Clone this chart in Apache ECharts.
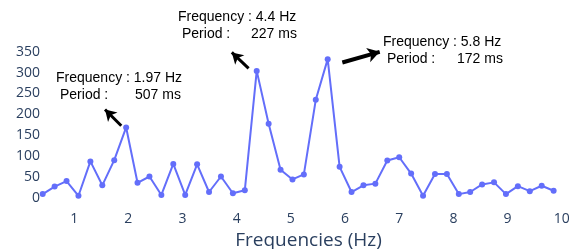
<!DOCTYPE html>
<html>
<head>
<meta charset="utf-8">
<script src="https://cdn.jsdelivr.net/npm/echarts@6/dist/echarts.min.js"></script>
<style>
  html, body { margin: 0; padding: 0; background: #fff; }
  #chart { width: 569px; height: 249px; }
</style>
</head>
<body>
<div id="chart"></div>
<script>
// frequency bins (Hz) and amplitude
const freqs = [0.42, 0.64, 0.86, 1.08, 1.30, 1.52, 1.74, 1.96, 2.17, 2.39, 2.61, 2.83, 3.05, 3.27, 3.49,
  3.71, 3.93, 4.15, 4.37, 4.59, 4.81, 5.03, 5.24, 5.46, 5.68, 5.90, 6.12, 6.34, 6.56, 6.78, 7.00,
  7.22, 7.44, 7.66, 7.88, 8.10, 8.31, 8.53, 8.75, 8.97, 9.19, 9.41, 9.63, 9.85]
const amps = [10, 28, 41, 6, 88, 31, 91, 169, 37, 52, 8, 82, 8, 81, 15, 52, 12, 19, 304, 178, 68, 45,
  57, 235, 332, 75, 15, 31, 35, 90, 98, 59, 6, 58, 58, 10, 15, 33, 38, 10, 29, 17, 30, 18]
const xTicks = [1, 2, 3, 4, 5, 6, 7, 8, 9, 10]

// arrows pointing at the annotated peaks (data coords, tail -> head)
const arrows = [
  { from: [1.87, 173], to: [1.57, 212], width: 3, head: [10, 11] },
  { from: [4.22, 310], to: [3.91, 348], width: 3, head: [10, 11] },
  { from: [5.95, 324], to: [6.64, 349.5], width: 4, head: [11, 12] }
]

const notes = [
  { f: 'Frequency : 1.97 Hz', p: 'Period :', ms: '507 ms', x: 56, y: 79, msx: 135 },
  { f: 'Frequency : 4.4 Hz', p: 'Period :', ms: '227 ms', x: 178, y: 18, msx: 251 },
  { f: 'Frequency : 5.8 Hz', p: 'Period :', ms: '172 ms', x: 383, y: 43, msx: 457 }
]

const axisColor = '#2a3f5f'
const noteFont = { fontFamily: 'Liberation Sans', fontSize: 14, fill: '#000' }

const chart = echarts.init(document.getElementById('chart'))

const graphic = []
notes.forEach((n) => {
  graphic.push({ type: 'text', left: n.x, top: n.y - 8, style: { text: n.f, ...noteFont } })
  graphic.push({ type: 'text', left: n.x + 4, top: n.y + 9, style: { text: n.p, ...noteFont } })
  graphic.push({ type: 'text', left: n.msx, top: n.y + 9, style: { text: n.ms, ...noteFont } })
})

chart.setOption({
  animation: false,
  grid: { left: 40, right: 4, top: 51.6, bottom: 50.7, outerBoundsMode: 'none', containLabel: false },
  xAxis: {
    type: 'value',
    min: 0.37,
    max: 10.06,
    interval: 1,
    name: 'Frequencies (Hz)',
    nameLocation: 'middle',
    nameGap: 30,
    nameTextStyle: { color: axisColor, fontSize: 19, fontFamily: 'Open Sans', padding: [0, 0, 0, 12] },
    axisLine: { show: false },
    axisTick: { show: false },
    splitLine: { show: false },
    axisLabel: {
      color: axisColor,
      fontSize: 14,
      fontFamily: 'Open Sans',
      margin: 14,
      customValues: xTicks,
      formatter: (v) => String(v)
    }
  },
  yAxis: {
    type: 'value',
    min: 0,
    max: 350,
    interval: 50,
    axisLine: { show: false },
    axisTick: { show: false },
    splitLine: { show: false },
    axisLabel: { color: axisColor, fontSize: 14, fontFamily: 'Open Sans', margin: 0 }
  },
  graphic: graphic,
  series: [
    {
      type: 'line',
      data: freqs.map((f, i) => [f, amps[i]]),
      symbol: 'circle',
      symbolSize: 6,
      showSymbol: true,
      clip: false,
      lineStyle: { color: '#636efa', width: 2 },
      itemStyle: { color: '#636efa' },
      markLine: {
        silent: true,
        symbol: ['none', 'arrow'],
        label: { show: false },
        data: arrows.map((a) => [
          { coord: a.from, symbolSize: a.head, lineStyle: { color: '#000', width: a.width, type: 'solid' } },
          { coord: a.to, symbolSize: a.head }
        ])
      }
    }
  ]
})
</script>
</body>
</html>
